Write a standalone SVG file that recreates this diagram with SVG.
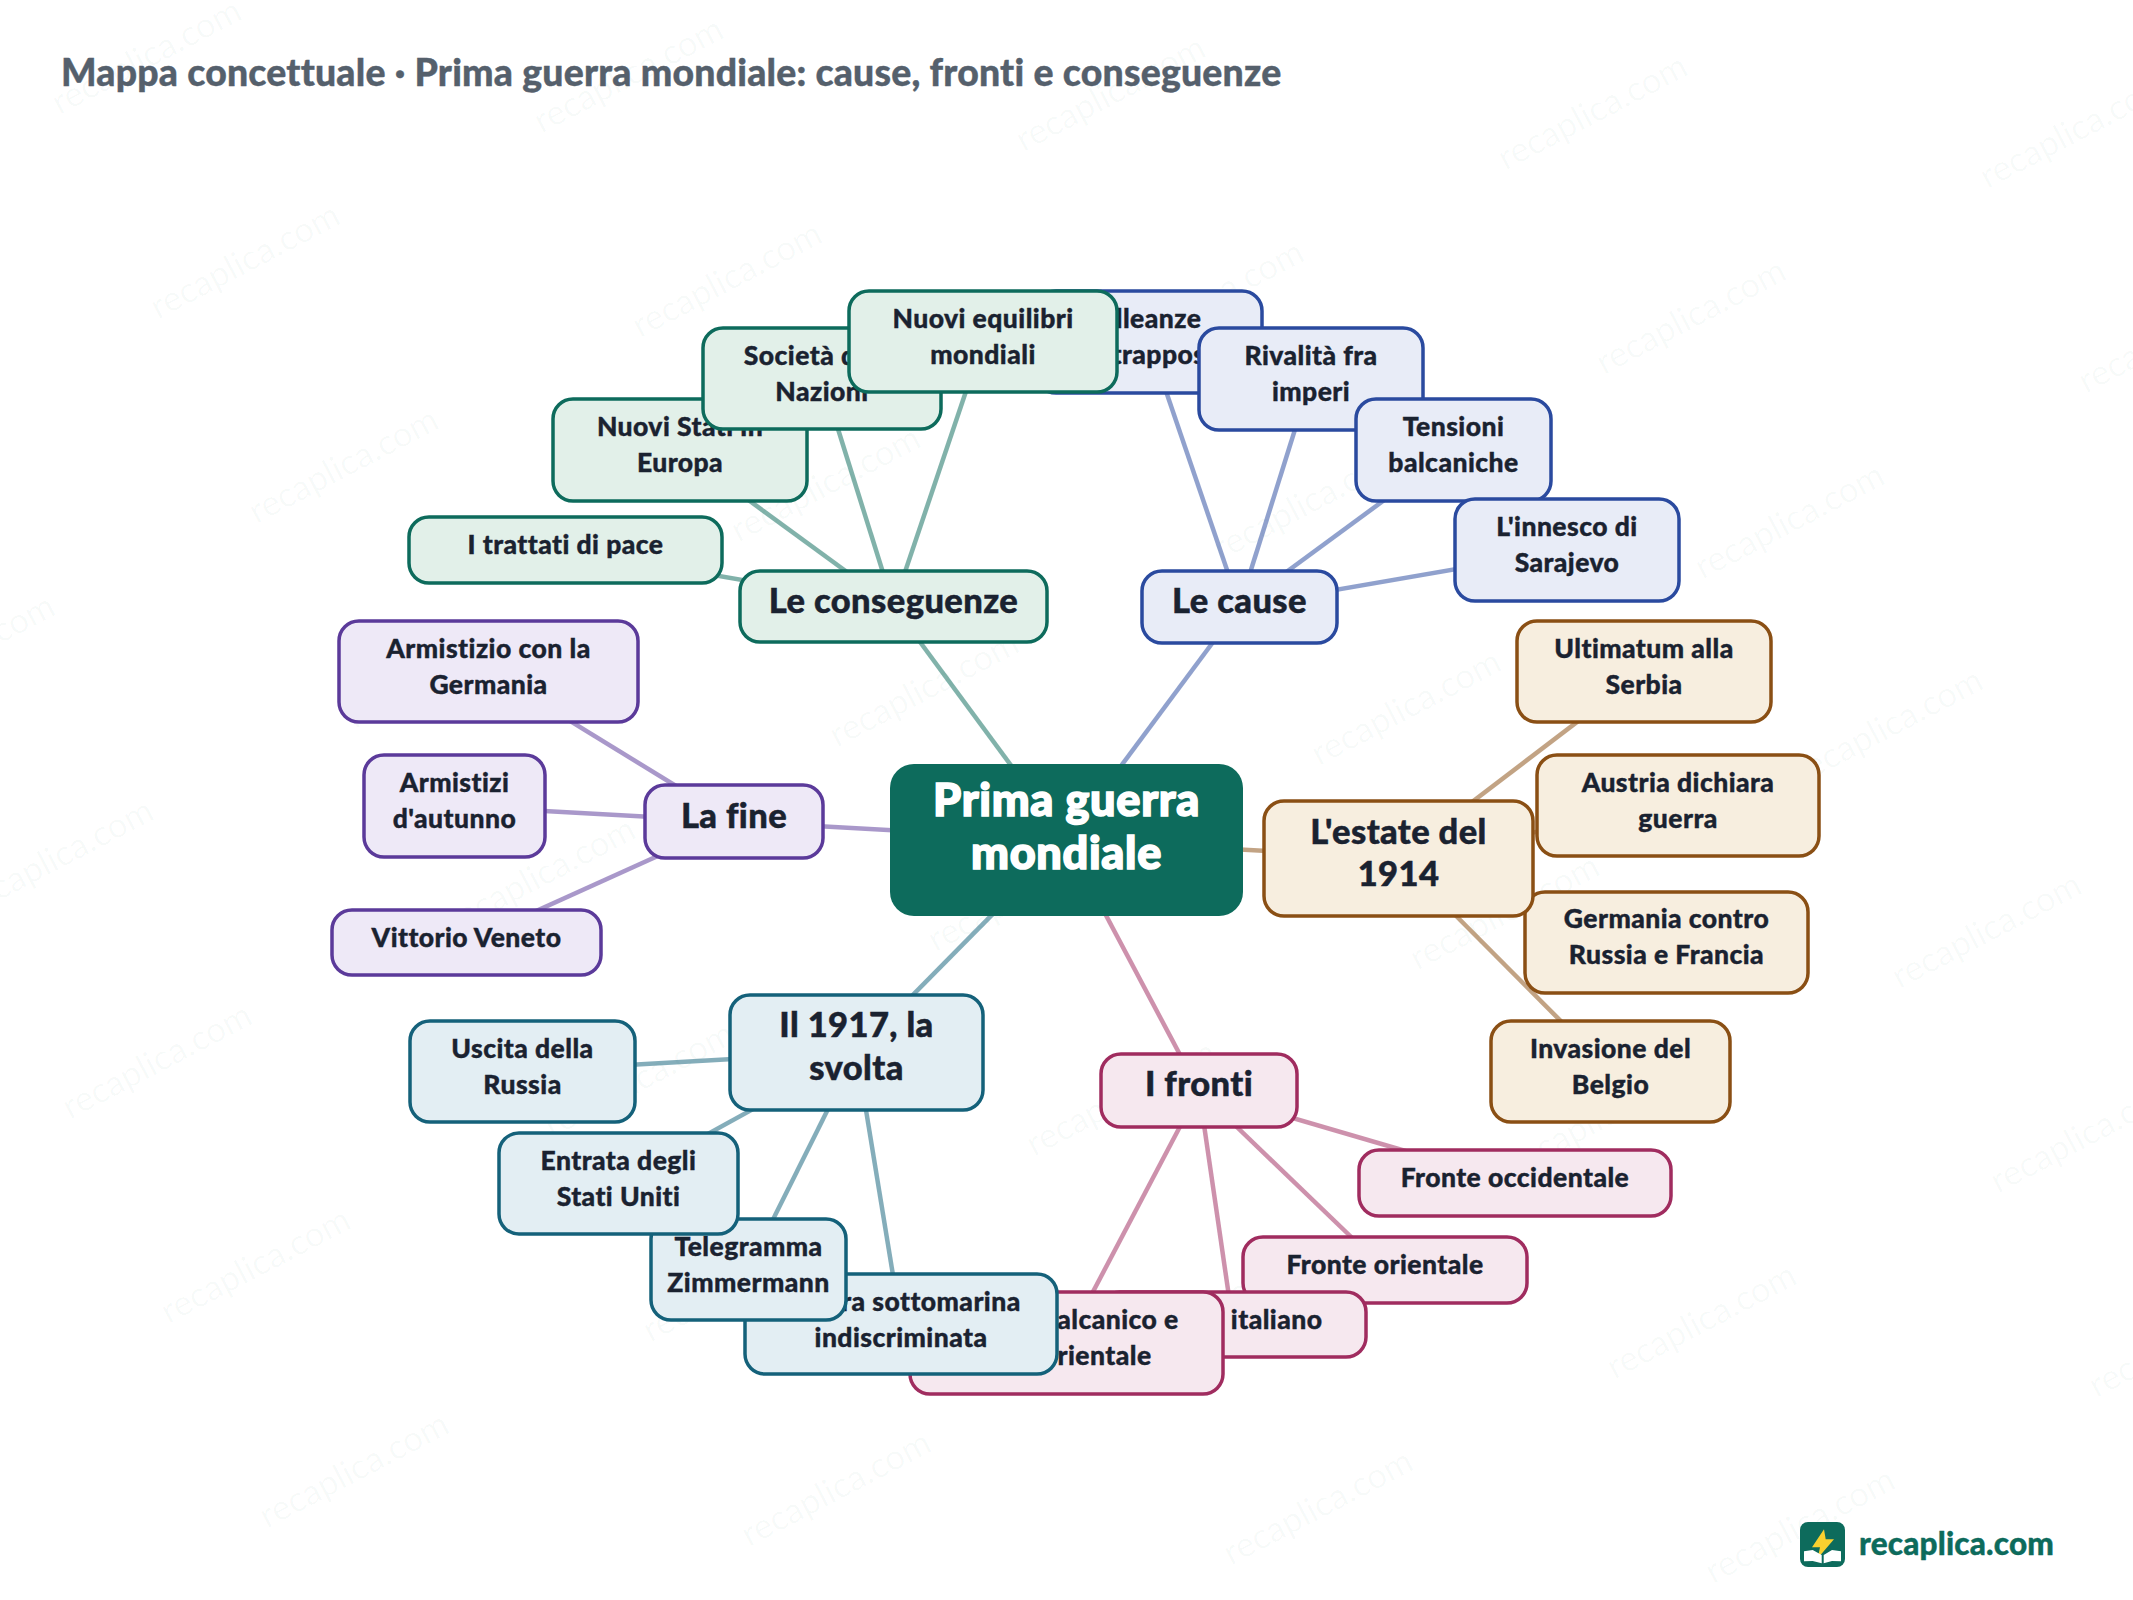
<svg xmlns="http://www.w3.org/2000/svg" width="2133" height="1600" viewBox="0 0 2133 1600">
<style>
text{font-family:"Lato","Noto Sans",sans-serif;text-anchor:middle;fill:#1a2230}
.t{font-size:26.5px;font-weight:900;letter-spacing:.45px;stroke:#1a2230;stroke-width:.4px;transform:translateY(-1px)}
.b{font-size:34.5px;font-weight:900;letter-spacing:.4px;stroke:#1a2230;stroke-width:.5px}
.c{font-size:45px;font-weight:900;letter-spacing:.7px;fill:#fff;stroke:#fff;stroke-width:1.6px;transform:translateY(1px)}
.title{font-size:37.4px;font-weight:900;letter-spacing:.2px;fill:#55606c;stroke:#55606c;stroke-width:.4px;text-anchor:start;transform:translateY(1px)}
.brand{font-size:31.5px;font-weight:900;letter-spacing:.2px;fill:#0d6b5c;stroke:#0d6b5c;stroke-width:.4px;text-anchor:start;transform:translateY(1px)}
.wm{font-size:35px;font-weight:400;fill:#0d6b5c;fill-opacity:.03;text-anchor:start;transform:translateX(4px)}
rect{stroke-width:3.5}
.l{rx:20px}
.gr rect{fill:#e2f0e9;stroke:#0d6b5c}
.bl rect{fill:#e8ecf7;stroke:#2a4a9f}
.tn rect{fill:#f7eedf;stroke:#8a4f14}
.pk rect{fill:#f6e8ef;stroke:#a02c5f}
.te rect{fill:#e3eef3;stroke:#14617a}
.pu rect{fill:#eee9f7;stroke:#5b3a9a}
#connectors line{stroke-width:4.5;stroke-opacity:.52}
.cgr line{stroke:#0d6b5c}.cbl line{stroke:#2a4a9f}.ctn line{stroke:#8a4f14}.cpk line{stroke:#a02c5f}.cte line{stroke:#14617a}.cpu line{stroke:#5b3a9a}
</style>
<defs><text id="wm" class="wm">recaplica.com</text></defs>
<rect width="2133" height="1600" fill="#fff" style="stroke:none"/>
<g id="watermark">
<use href="#wm" transform="translate(56,117) rotate(-27.7)"/><use href="#wm" transform="translate(538,135.5) rotate(-27.7)"/><use href="#wm" transform="translate(1020,154) rotate(-27.7)"/><use href="#wm" transform="translate(1502,172.5) rotate(-27.7)"/><use href="#wm" transform="translate(1984,191) rotate(-27.7)"/>
<use href="#wm" transform="translate(154.5,321.5) rotate(-27.7)"/><use href="#wm" transform="translate(636.5,340) rotate(-27.7)"/><use href="#wm" transform="translate(1118.5,358.5) rotate(-27.7)"/><use href="#wm" transform="translate(1600.5,377) rotate(-27.7)"/><use href="#wm" transform="translate(2082.5,395.5) rotate(-27.7)"/>
<use href="#wm" transform="translate(253,526) rotate(-27.7)"/><use href="#wm" transform="translate(735,544.5) rotate(-27.7)"/><use href="#wm" transform="translate(1217,563) rotate(-27.7)"/><use href="#wm" transform="translate(1699,581.5) rotate(-27.7)"/>
<use href="#wm" transform="translate(-130.5,712.5) rotate(-27.7)"/><use href="#wm" transform="translate(351.5,731) rotate(-27.7)"/><use href="#wm" transform="translate(833.5,749.5) rotate(-27.7)"/><use href="#wm" transform="translate(1315.5,768) rotate(-27.7)"/><use href="#wm" transform="translate(1797.5,786.5) rotate(-27.7)"/>
<use href="#wm" transform="translate(-32,917) rotate(-27.7)"/><use href="#wm" transform="translate(450,935.5) rotate(-27.7)"/><use href="#wm" transform="translate(932,954) rotate(-27.7)"/><use href="#wm" transform="translate(1414,972.5) rotate(-27.7)"/><use href="#wm" transform="translate(1896,991) rotate(-27.7)"/>
<use href="#wm" transform="translate(66.5,1121.5) rotate(-27.7)"/><use href="#wm" transform="translate(548.5,1140) rotate(-27.7)"/><use href="#wm" transform="translate(1030.5,1158.5) rotate(-27.7)"/><use href="#wm" transform="translate(1512.5,1177) rotate(-27.7)"/><use href="#wm" transform="translate(1994.5,1195.5) rotate(-27.7)"/>
<use href="#wm" transform="translate(165,1326) rotate(-27.7)"/><use href="#wm" transform="translate(647,1344.5) rotate(-27.7)"/><use href="#wm" transform="translate(1129,1363) rotate(-27.7)"/><use href="#wm" transform="translate(1611,1381.5) rotate(-27.7)"/><use href="#wm" transform="translate(2093,1400) rotate(-27.7)"/>
<use href="#wm" transform="translate(263.5,1530.5) rotate(-27.7)"/><use href="#wm" transform="translate(745.5,1549) rotate(-27.7)"/><use href="#wm" transform="translate(1227.5,1567.5) rotate(-27.7)"/><use href="#wm" transform="translate(1709.5,1586) rotate(-27.7)"/>
</g>
<text class="title" x="61" y="85">Mappa concettuale · Prima guerra mondiale: cause, fronti e conseguenze</text>
<g id="connectors">
<g class="cbl"><line x1="1066" y1="840" x2="1239.5" y2="606.5"/><line x1="1239.5" y1="606.5" x2="1149" y2="341.5"/><line x1="1239.5" y1="606.5" x2="1311" y2="378.5"/><line x1="1239.5" y1="606.5" x2="1453" y2="449.5"/><line x1="1239.5" y1="606.5" x2="1567" y2="550"/></g>
<g class="cgr"><line x1="1066" y1="840" x2="893.5" y2="606"/><line x1="893.5" y1="606" x2="565.5" y2="549.5"/><line x1="893.5" y1="606" x2="680" y2="450"/><line x1="893.5" y1="606" x2="822" y2="378"/><line x1="893.5" y1="606" x2="983" y2="341"/></g>
<g class="cpu"><line x1="1066" y1="840" x2="734" y2="821.5"/><line x1="734" y1="821.5" x2="488.5" y2="671"/><line x1="734" y1="821.5" x2="454.5" y2="806"/><line x1="734" y1="821.5" x2="466.5" y2="942.5"/></g>
<g class="cte"><line x1="1066" y1="840" x2="856.5" y2="1052"/><line x1="856.5" y1="1052" x2="522.5" y2="1071"/><line x1="856.5" y1="1052" x2="618" y2="1183.5"/><line x1="856.5" y1="1052" x2="748" y2="1269.5"/><line x1="856.5" y1="1052" x2="901" y2="1324"/></g>
<g class="cpk"><line x1="1066" y1="840" x2="1199" y2="1090.5"/><line x1="1199" y1="1090.5" x2="1515" y2="1183"/><line x1="1199" y1="1090.5" x2="1385" y2="1269.5"/><line x1="1199" y1="1090.5" x2="1233" y2="1324"/><line x1="1199" y1="1090.5" x2="1066" y2="1343"/></g>
<g class="ctn"><line x1="1066" y1="840" x2="1398.5" y2="858"/><line x1="1398.5" y1="858" x2="1644" y2="671"/><line x1="1398.5" y1="858" x2="1678" y2="805"/><line x1="1398.5" y1="858" x2="1666.5" y2="942"/><line x1="1398.5" y1="858" x2="1610.5" y2="1071"/></g>
</g>
<g class="bl">
<g id="n-alleanze"><rect class="l" x="1036" y="291" width="226" height="102"/><text class="t" x="1149" y="329">Alleanze</text><text class="t" x="1149" y="365">contrapposte</text></g>
<g id="n-rivalita"><rect class="l" x="1199" y="328" width="224" height="102"/><text class="t" x="1311" y="366">Rivalità fra</text><text class="t" x="1311" y="402">imperi</text></g>
<g id="n-tensioni"><rect class="l" x="1356" y="399" width="195" height="102"/><text class="t" x="1453.5" y="437">Tensioni</text><text class="t" x="1453.5" y="473">balcaniche</text></g>
<g id="n-innesco"><rect class="l" x="1455" y="499" width="224" height="102"/><text class="t" x="1567" y="537">L'innesco di</text><text class="t" x="1567" y="573">Sarajevo</text></g>
<g id="n-cause"><rect class="l" x="1142" y="571" width="195" height="72"/><text class="b" x="1239.5" y="613">Le cause</text></g>
</g>
<g class="gr">
<g id="n-trattati"><rect class="l" x="409" y="517" width="313" height="66"/><text class="t" x="565.5" y="555">I trattati di pace</text></g>
<g id="n-stati"><rect class="l" x="553" y="399" width="254" height="102"/><text class="t" x="680" y="437">Nuovi Stati in</text><text class="t" x="680" y="473">Europa</text></g>
<g id="n-societa"><rect class="l" x="703" y="328" width="238" height="101"/><text class="t" x="822" y="366">Società delle</text><text class="t" x="822" y="402">Nazioni</text></g>
<g id="n-equilibri"><rect class="l" x="849" y="291" width="268" height="101"/><text class="t" x="983" y="329">Nuovi equilibri</text><text class="t" x="983" y="365">mondiali</text></g>
<g id="n-conseguenze"><rect class="l" x="740" y="571" width="307" height="71"/><text class="b" x="893.5" y="613">Le conseguenze</text></g>
</g>
<g class="pu">
<g id="n-germania"><rect class="l" x="339" y="621" width="299" height="101"/><text class="t" x="488.5" y="659">Armistizio con la</text><text class="t" x="488.5" y="695">Germania</text></g>
<g id="n-autunno"><rect class="l" x="364" y="755" width="181" height="102"/><text class="t" x="454.5" y="793">Armistizi</text><text class="t" x="454.5" y="829">d'autunno</text></g>
<g id="n-vittorio"><rect class="l" x="332" y="910" width="269" height="65"/><text class="t" x="466.5" y="948">Vittorio Veneto</text></g>
<g id="n-fine"><rect class="l" x="645" y="785" width="178" height="73"/><text class="b" x="734" y="828">La fine</text></g>
</g>
<g class="pk">
<g id="n-occidentale"><rect class="l" x="1359" y="1150" width="312" height="66"/><text class="t" x="1515" y="1188">Fronte occidentale</text></g>
<g id="n-orientale"><rect class="l" x="1243" y="1237" width="284" height="66"/><text class="t" x="1385" y="1275">Fronte orientale</text></g>
<g id="n-italiano"><rect class="l" x="1100" y="1292" width="266" height="65"/><text class="t" x="1233" y="1330">Fronte italiano</text></g>
<g id="n-balcanico"><rect class="l" x="910" y="1292" width="313" height="102"/><text class="t" x="1066.5" y="1330">Fronte balcanico e</text><text class="t" x="1066.5" y="1366">mediorientale</text></g>
<g id="n-fronti"><rect class="l" x="1101" y="1054" width="196" height="73"/><text class="b" x="1199" y="1096">I fronti</text></g>
</g>
<g class="te">
<g id="n-sottomarina"><rect class="l" x="745" y="1274" width="312" height="100"/><text class="t" x="901" y="1312">Guerra sottomarina</text><text class="t" x="901" y="1348">indiscriminata</text></g>
<g id="n-telegramma"><rect class="l" x="651" y="1219" width="195" height="101"/><text class="t" x="748.5" y="1257">Telegramma</text><text class="t" x="748.5" y="1293">Zimmermann</text></g>
<g id="n-entrata"><rect class="l" x="499" y="1133" width="239" height="101"/><text class="t" x="618.5" y="1171">Entrata degli</text><text class="t" x="618.5" y="1207">Stati Uniti</text></g>
<g id="n-uscita"><rect class="l" x="410" y="1021" width="225" height="101"/><text class="t" x="522.5" y="1059">Uscita della</text><text class="t" x="522.5" y="1095">Russia</text></g>
<g id="n-1917"><rect class="l" x="730" y="995" width="253" height="115"/><text class="b" x="856.5" y="1037">Il 1917, la</text><text class="b" x="856.5" y="1080">svolta</text></g>
</g>
<g class="tn">
<g id="n-ultimatum"><rect class="l" x="1517" y="621" width="254" height="101"/><text class="t" x="1644" y="659">Ultimatum alla</text><text class="t" x="1644" y="695">Serbia</text></g>
<g id="n-austria"><rect class="l" x="1537" y="755" width="282" height="101"/><text class="t" x="1678" y="793">Austria dichiara</text><text class="t" x="1678" y="829">guerra</text></g>
<g id="n-russia"><rect class="l" x="1525" y="892" width="283" height="101"/><text class="t" x="1666.5" y="929">Germania contro</text><text class="t" x="1666.5" y="965">Russia e Francia</text></g>
<g id="n-belgio"><rect class="l" x="1491" y="1021" width="239" height="101"/><text class="t" x="1610.5" y="1059">Invasione del</text><text class="t" x="1610.5" y="1095">Belgio</text></g>
<g id="n-estate"><rect class="l" x="1264" y="801" width="269" height="115"/><text class="b" x="1398.5" y="844">L'estate del</text><text class="b" x="1398.5" y="886">1914</text></g>
</g>
<g id="n-centro"><rect x="890" y="764" width="353" height="152" rx="24" fill="#0d6b5c" style="stroke:none"/><text class="c" x="1066.5" y="815">Prima guerra</text><text class="c" x="1066.5" y="868">mondiale</text></g>
<g id="logo">
<rect x="1800" y="1522" width="45" height="45" rx="8" fill="#0d6b5c" style="stroke:none"/>
<polygon points="1824,1529.3 1812,1547.3 1820,1547.3 1817.7,1558.3 1834,1539.3 1825.7,1539.3" fill="#f9d02f"/>
<polygon points="1804,1551.3 1812.7,1550 1821.7,1555 1821.7,1563.3 1812.7,1561 1804,1561.3" fill="#fff"/>
<polygon points="1823.7,1555 1832,1550 1841,1551.3 1841,1561.3 1832,1561 1823.7,1563.3" fill="#fff"/>
<text class="brand" x="1859" y="1554">recaplica.com</text>
</g>
</svg>
